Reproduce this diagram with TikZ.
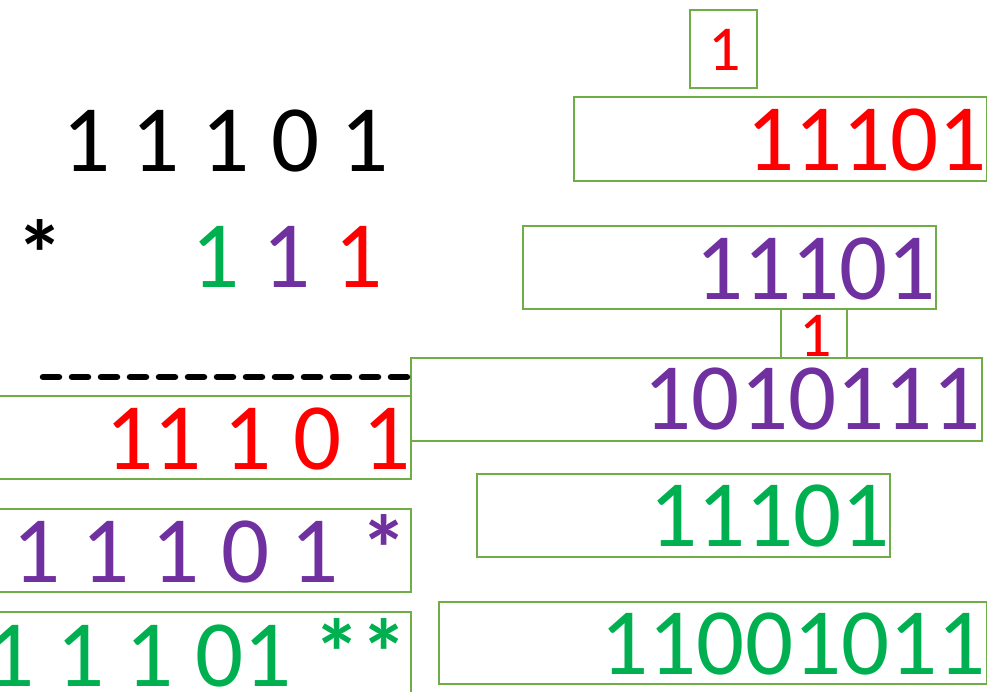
\documentclass[tikz,border=0pt]{standalone}
\usepackage{fontspec}
\setmainfont{Carlito}
\definecolor{gline}{HTML}{70AD47}
\definecolor{cred}{HTML}{FF0000}
\definecolor{cpurple}{HTML}{7030A0}
\definecolor{cgreen}{HTML}{00B050}
\newcommand{\mystar}{\textbf{*}}
\tikzset{
  gbox/.style={draw=gline, line width=2.4pt, inner sep=0pt, anchor=north west},
  big/.style={inner sep=0pt, font=\fontsize{95}{97}\selectfont},
  small/.style={inner sep=0pt, font=\fontsize{64}{66}\selectfont},
  rule/.style={line width=6.5pt, line cap=round, dash pattern=on 16pt off 13pt}
}
\begin{document}
\begin{tikzpicture}[x=1pt,y=-1pt]
\useasboundingbox (0,0) rectangle (987,692);
% boxes
\node[gbox, minimum width=67pt, minimum height=78pt] (bA) at (689,9) {};
\node[gbox, minimum width=413pt, minimum height=84pt] (bB) at (573,96) {};
\node[gbox, minimum width=413pt, minimum height=83pt] (bC) at (522,225) {};
\node[gbox, minimum width=66pt, minimum height=49pt] (bD) at (780,308) {};
\node[gbox, minimum width=571pt, minimum height=83pt] (bE) at (410,357) {};
\node[gbox, minimum width=413pt, minimum height=83pt] (bF) at (-3,395) {};
\node[gbox, minimum width=413pt, minimum height=83pt] (bG) at (-3,508) {};
\node[gbox, minimum width=413pt, minimum height=90pt] (bH) at (-3,611) {};
\node[gbox, minimum width=413pt, minimum height=83pt] (bI) at (476,473) {};
\node[gbox, minimum width=548pt, minimum height=82pt] (bJ) at (438,601) {};
% dashed rule
\coordinate (r1) at (43,377);
\coordinate (r2) at (410,377);
\draw[rule] (r1) -- (r2);
% left column texts
\node[big, anchor=south east] (t1) at (389,172) {1 1 1 0 1};
\node[big, anchor=base] (tstar) at (40,288) {\mystar};
\node[big, anchor=base, text=cgreen] (m1) at (216,288) {1};
\node[big, anchor=base, text=cpurple] (m2) at (287,288) {1};
\node[big, anchor=base, text=cred] (m3) at (359,288) {1};
\node[big, anchor=south east, text=cred] (tF) at (411,470) {11 1 0 1};
\node[big, anchor=south east, text=cpurple] (tG) at (408,583) {1 1 1 0 1 \mystar};
\node[big, anchor=south east, text=cgreen] (tH) at (408,687) {1 1 1 01 \mystar\mystar};
% right column texts
\node[small, anchor=base, text=cred] (tA) at (725,71) {1};
\node[big, anchor=south east, text=cred] (tB) at (987,171) {11101};
\node[big, anchor=south east, text=cpurple] (tC) at (936,300) {11101};
\node[small, anchor=base, text=cred] (tD) at (816,356) {1};
\node[big, anchor=south east, text=cpurple] (tE) at (981,430) {1010111};
\node[big, anchor=south east, text=cgreen] (tI) at (890,547) {11101};
\node[big, anchor=south east, text=cgreen] (tJ) at (986,675) {11001011};
\end{tikzpicture}
\end{document}
